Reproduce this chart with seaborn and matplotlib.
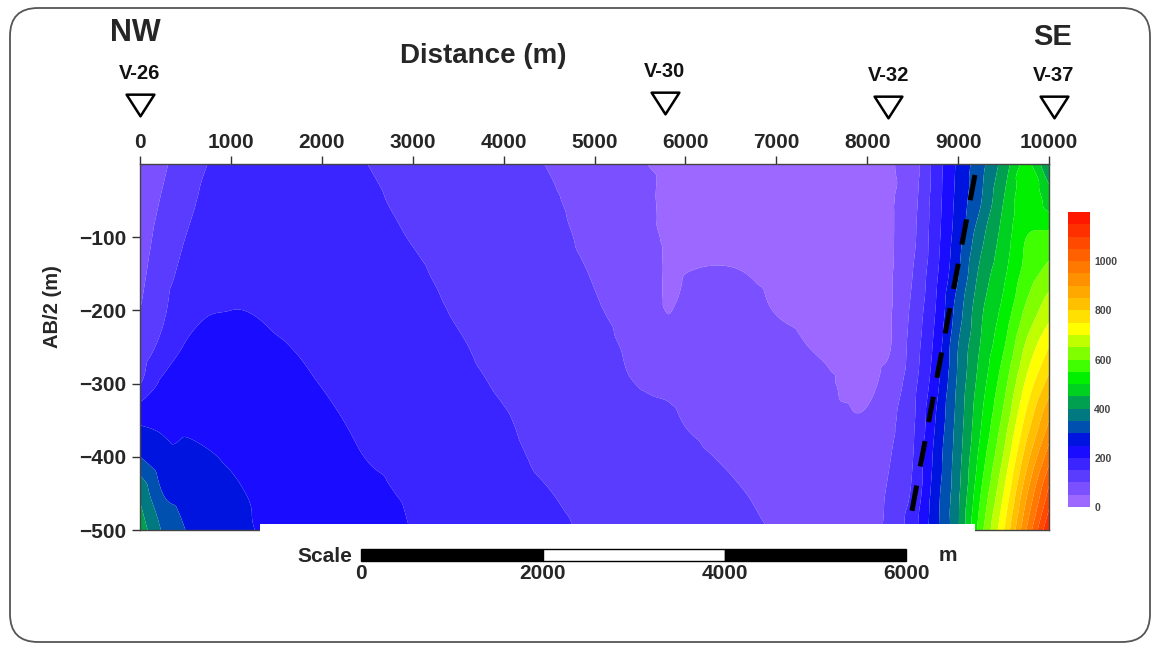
import numpy as np
import pandas as pd
import matplotlib
matplotlib.use("Agg")
import matplotlib.pyplot as plt
import matplotlib.tri as mtri
import seaborn as sns
from matplotlib.colors import ListedColormap, BoundaryNorm
from matplotlib.patches import Rectangle, FancyBboxPatch
from matplotlib.path import Path

# ---------------- data ----------------
distance = [0, 250, 500, 1000, 1500, 2000, 2500, 3000, 3500, 4000, 4500, 5000,
            5500, 5800, 6000, 6500, 7000, 7500, 8000, 8250, 8500, 8750, 9000,
            9250, 9500, 9750, 10000]
depth = [0, -50, -100, -150, -200, -250, -300, -350, -400, -450, -500]

rho_0 = [60, 92, 125, 168, 168, 162, 150, 137, 124, 112, 98, 72, 52, 45, 35, 30, 30, 25, 22, 45, 75, 169, 260, 333, 420, 510, 400]
rho_50 = [68, 105, 138, 175, 174, 167, 156, 141, 128, 116, 106, 80, 58, 45, 40, 35, 33, 28, 22, 44, 83, 174, 267, 347, 450, 535, 480]
rho_100 = [78, 118, 150, 182, 180, 173, 162, 148, 133, 121, 112, 88, 65, 46, 45, 42, 38, 32, 24, 44, 89, 179, 279, 385, 470, 550, 565]
rho_150 = [88, 130, 163, 190, 186, 179, 168, 156, 139, 126, 117, 97, 72, 47, 50, 52, 44, 37, 27, 45, 100, 188, 296, 415, 490, 570, 620]
rho_200 = [100, 142, 185, 200, 194, 185, 174, 163, 146, 131, 122, 104, 80, 49, 60, 62, 49, 42, 32, 46, 112, 200, 325, 440, 515, 610, 680]
rho_250 = [118, 165, 203, 208, 203, 192, 180, 170, 154, 137, 127, 111, 88, 62, 70, 72, 58, 47, 38, 48, 122, 214, 350, 455, 545, 660, 750]
rho_300 = [148, 210, 220, 220, 213, 199, 186, 177, 161, 145, 132, 118, 98, 90, 85, 80, 68, 56, 43, 68, 133, 230, 360, 475, 580, 710, 820]
rho_350 = [245, 242, 240, 232, 223, 208, 192, 184, 168, 153, 137, 125, 110, 108, 98, 88, 76, 64, 55, 88, 141, 250, 370, 495, 615, 765, 900]
rho_400 = [300, 265, 262, 245, 232, 217, 199, 190, 174, 158, 143, 132, 120, 118, 108, 96, 84, 72, 65, 98, 148, 265, 380, 520, 655, 825, 980]
rho_450 = [390, 300, 282, 256, 240, 226, 208, 195, 180, 163, 151, 138, 128, 125, 115, 104, 92, 80, 74, 109, 159, 277, 390, 550, 700, 890, 1065]
rho_500 = [430, 345, 300, 262, 242, 234, 217, 199, 185, 168, 158, 144, 135, 132, 122, 112, 98, 88, 82, 115, 179, 284, 395, 580, 745, 950, 1150]

stations = ["V-26", "V-30", "V-32", "V-37"]
station_x = [0, 5775, 8230, 10050]
station_y = [81, 83, 78, 78]

levels = list(range(0, 1250, 50))
cbar_ticks = [0, 200, 400, 600, 800, 1000]
x_ticks = list(range(0, 10001, 1000))
y_ticks = [-100, -200, -300, -400, -500]
scale_ticks = [0, 2000, 4000, 6000]

fault_x = [9185, 8492]
fault_y = [-15, -474]

band_colors = ["#9c68ff", "#7a50ff", "#5a3cff", "#3a24ff", "#1a0cff", "#0014e0",
               "#0050b0", "#007a80", "#00a050", "#00d020", "#00f000", "#40ff00",
               "#80ff00", "#c0ff00", "#ffff00", "#ffe000", "#ffc000", "#ffa800",
               "#ff9000", "#ff7800", "#ff6000", "#ff4800", "#ff3000", "#ff1800"]

# ---------------- figure ----------------
sns.set_theme(style="white")
plt.rcParams['font.family'] = ['Liberation Sans', 'DejaVu Sans']
plt.rcParams['font.weight'] = 'bold'
plt.rcParams['lines.scale_dashes'] = False

W, H = 1159, 649
fig = plt.figure(figsize=(W / 100, H / 100), dpi=100)
fig.patch.set_facecolor("white")

ax = fig.add_axes([140 / W, 1 - 530 / H, 909 / W, 366 / H])

grid = pd.DataFrame([rho_0, rho_50, rho_100, rho_150, rho_200, rho_250, rho_300,
                     rho_350, rho_400, rho_450, rho_500], index=depth, columns=distance)
X, Y = np.meshgrid(grid.columns.values.astype(float), grid.index.values.astype(float))

# smooth contouring through matplotlib's own triangulation refiner
zvals = grid.values.ravel().astype(float)
tri_s = mtri.Triangulation(X.ravel() / 1000.0, Y.ravel() / 100.0)
interp = mtri.CubicTriInterpolator(tri_s, zvals, kind='geom')
refiner = mtri.UniformTriRefiner(tri_s)
tri_r, z_r = refiner.refine_field(zvals, triinterpolator=interp, subdiv=4)
tri_plot = mtri.Triangulation(tri_r.x * 1000.0, tri_r.y * 100.0, tri_r.triangles)
z_r = np.clip(z_r, levels[0] + 0.5, levels[-1] - 0.5)

cmap = ListedColormap(band_colors)
norm = BoundaryNorm(levels, cmap.N)
cf = ax.tricontourf(tri_plot, z_r, levels=levels, cmap=cmap, norm=norm, antialiased=True)

ax.set_xlim(0, 10000)
ax.set_ylim(-500, 0)
ax.set_xticks(x_ticks)
ax.set_yticks(y_ticks)
ax.xaxis.tick_top()
ax.tick_params(axis='x', top=True, labeltop=True, bottom=False, labelbottom=False,
               direction='out', length=6, width=1, color='#333333', labelsize=15, pad=3)
ax.tick_params(axis='y', left=True, direction='out', length=6, width=1,
               color='#333333', labelsize=15, pad=4)
for lab in ax.get_xticklabels() + ax.get_yticklabels():
    lab.set_fontweight('bold')
for sp in ax.spines.values():
    sp.set_color('#444444')
    sp.set_linewidth(1.0)

ax.set_ylabel("AB/2 (m)", fontsize=14.5, fontweight='bold')
ax.yaxis.set_label_coords(-0.086, 0.61)

# white notch along the bottom
ax.add_patch(Rectangle((1320, -512), 9185 - 1320, 20.5, facecolor='white',
                       edgecolor='none', zorder=5, clip_on=False))

# fault (dashed)
ax.plot(fault_x, fault_y, color='black', lw=3.6, linestyle=(0, (18.5, 14)),
        solid_capstyle='butt', dash_capstyle='butt', zorder=6)

# stations
tri_marker = Path([(-1, 0.78), (1, 0.78), (0, -0.78), (-1, 0.78)],
                  [Path.MOVETO, Path.LINETO, Path.LINETO, Path.CLOSEPOLY])
for name, sx, sy in zip(stations, station_x, station_y):
    ax.plot([sx], [sy], marker=tri_marker, markersize=20, markerfacecolor='white',
            markeredgecolor='black', markeredgewidth=1.8, clip_on=False, zorder=7,
            linestyle='none')
    ax.text(sx, sy + 43, name, ha='center', va='center', fontsize=14.5,
            fontweight='bold', color='#111111')

ax.text(-55, 179, "NW", ha='center', va='center', fontsize=22, fontweight='bold')
ax.text(10043, 174, "SE", ha='center', va='center', fontsize=21, fontweight='bold')
ax.text(3773, 147, "Distance (m)", ha='center', va='center', fontsize=20, fontweight='bold')

# scale bar
x0 = 2431
for i in range(3):
    ax.add_patch(Rectangle((x0 + scale_ticks[i], -542), scale_ticks[i + 1] - scale_ticks[i], 16,
                           facecolor='black' if i != 1 else 'white', edgecolor='black',
                           lw=1.0, clip_on=False, zorder=6))
for t in scale_ticks:
    ax.text(x0 + t, -560, str(t), ha='center', va='center', fontsize=15, fontweight='bold')
ax.text(2330, -536, "Scale", ha='right', va='center', fontsize=15, fontweight='bold')
ax.text(8890, -535, "m", ha='center', va='center', fontsize=15, fontweight='bold')

# colorbar
cax = fig.add_axes([1068 / W, 1 - 507 / H, 22 / W, 295 / H])
cb = fig.colorbar(cf, cax=cax, ticks=cbar_ticks)
cb.outline.set_visible(False)
cb.ax.minorticks_off()
cax.tick_params(which='both', length=0, labelsize=7.5, labelcolor='#444444', pad=3)
for lab in cax.get_yticklabels():
    lab.set_fontweight('bold')

# rounded outer frame
fig.patches.append(FancyBboxPatch((10 / W, 1 - 642 / H), 1140 / W, 634 / H,
                                  boxstyle="round,pad=0,rounding_size=%f" % (28 / W),
                                  mutation_aspect=W / H, transform=fig.transFigure,
                                  fill=False, edgecolor='#555555', lw=1.3, figure=fig))

fig.savefig("out.png", dpi=100, facecolor="white")
